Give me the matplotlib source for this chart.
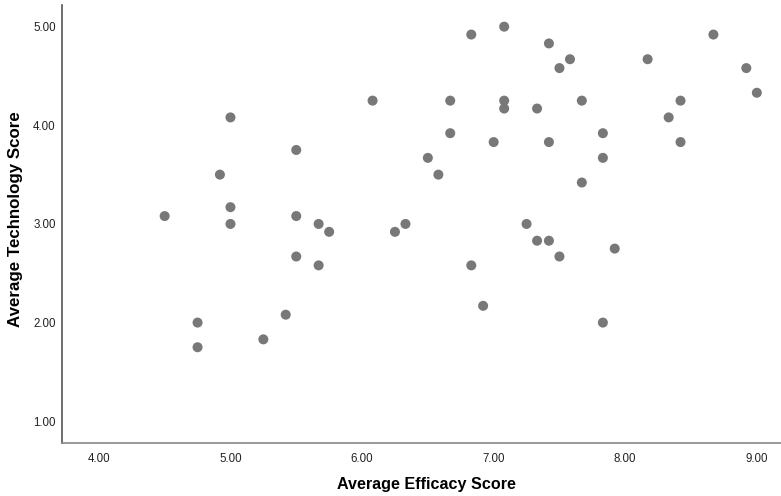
import matplotlib
matplotlib.use('Agg')
from matplotlib import pyplot as plt

# average efficacy score / average technology score for each respondent
efficacy = [4.50, 4.75, 4.75, 4.92, 5.00, 5.00, 5.00, 5.25, 5.42, 5.50,
            5.50, 5.50, 5.67, 5.67, 5.75, 6.08, 6.25, 6.33, 6.50, 6.58,
            6.67, 6.67, 6.83, 6.83, 6.92, 7.00, 7.08, 7.08, 7.08, 7.25,
            7.33, 7.33, 7.42, 7.42, 7.42, 7.50, 7.50, 7.58, 7.67, 7.67,
            7.83, 7.83, 7.83, 7.92, 8.17, 8.33, 8.42, 8.42, 8.67, 8.92,
            9.00]
technology = [3.08, 2.00, 1.75, 3.50, 4.08, 3.17, 3.00, 1.83, 2.08, 3.75,
              3.08, 2.67, 3.00, 2.58, 2.92, 4.25, 2.92, 3.00, 3.67, 3.50,
              4.25, 3.92, 4.92, 2.58, 2.17, 3.83, 5.00, 4.25, 4.17, 3.00,
              4.17, 2.83, 4.83, 3.83, 2.83, 4.58, 2.67, 4.67, 4.25, 3.42,
              3.92, 3.67, 2.00, 2.75, 4.67, 4.08, 4.25, 3.83, 4.92, 4.58,
              4.33]
xticks = [4, 5, 6, 7, 8, 9]
yticks = [1, 2, 3, 4, 5]

plt.rcParams['font.family'] = ['Liberation Sans', 'DejaVu Sans']
fig = plt.figure(figsize=(7.81, 4.96), dpi=100)
ax = fig.add_axes([0.0794, 0.107, 0.92, 0.883])

ax.scatter(efficacy, technology, s=52, c='#787878', edgecolors='none', zorder=3)

ax.set_xlim(3.72, 9.18)
ax.set_ylim(0.78, 5.22)
ax.set_xticks(xticks)
ax.set_yticks(yticks)
ax.set_xticklabels(['%.2f' % t for t in xticks])
ax.set_yticklabels(['%.2f' % t for t in yticks])
ax.tick_params(axis='both', length=0, labelsize=8.3, colors='#222222')
ax.tick_params(axis='x', pad=7)
ax.tick_params(axis='y', pad=4.5)

for side in ['top', 'right']:
    ax.spines[side].set_visible(False)
ax.spines['left'].set_color('#555555')
ax.spines['bottom'].set_color('#888888')
ax.spines['left'].set_linewidth(1.2)
ax.spines['bottom'].set_linewidth(1.2)

ax.set_xlabel('Average Efficacy Score', fontsize=11.6, fontweight='bold', va='center')
ax.set_ylabel('Average Technology Score', fontsize=12.2, fontweight='bold', va='center')
ax.xaxis.set_label_coords(0.507, -0.096)
ax.yaxis.set_label_coords(-0.0654, 0.511)

plt.savefig('out.png', dpi=100)
